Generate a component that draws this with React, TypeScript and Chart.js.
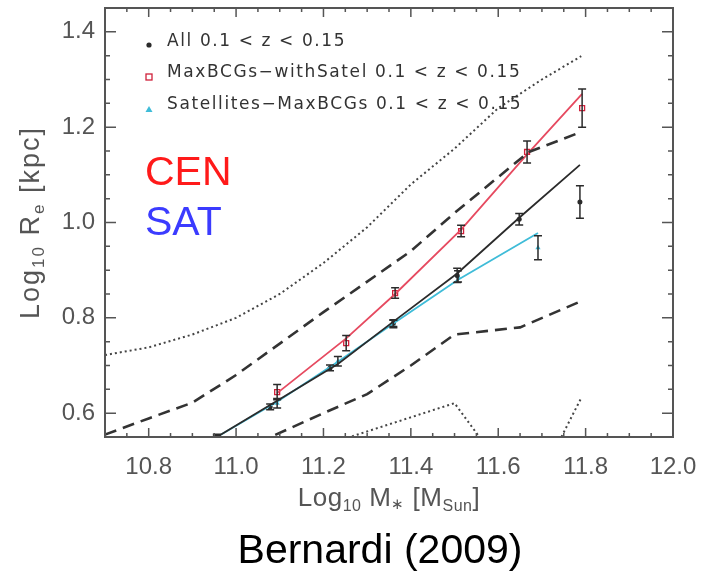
import React, { useEffect, useRef } from "react";
import { Chart, registerables } from "chart.js";

Chart.register(...registerables);

// ---- axes ----
const xTicks = [10.8, 11.0, 11.2, 11.4, 11.6, 11.8, 12.0];
const yTicks = [0.6, 0.8, 1.0, 1.2, 1.4];

// ---- All 0.1 < z < 0.15 (black points) ----
const allX = [10.956, 11.078, 11.215, 11.36, 11.506, 11.648, 11.787];
const allY = [0.54, 0.613, 0.695, 0.789, 0.889, 1.007, 1.043];
const allErr = [0.013, 0.006, 0.006, 0.007, 0.015, 0.012, 0.034];

// ---- MaxBCGs-withSatel (red squares) ----
const cenX = [11.094, 11.252, 11.364, 11.515, 11.666, 11.792];
const cenY = [0.644, 0.747, 0.852, 0.982, 1.148, 1.24];
const cenErr = [0.016, 0.016, 0.011, 0.012, 0.023, 0.04];

// ---- Satellites-MaxBCGs (cyan triangles) ----
const satX = [10.956, 11.094, 11.233, 11.36, 11.508, 11.691];
const satY = [0.548, 0.621, 0.709, 0.787, 0.887, 0.947];
const satErr = [0.008, 0.01, 0.01, 0.008, 0.012, 0.025];

// ---- fit lines ----
const allFitX = [10.956, 11.094, 11.233, 11.36, 11.506, 11.648, 11.787];
const allFitY = [0.55, 0.626, 0.703, 0.792, 0.893, 1.01, 1.121];
const cenFitX = [11.094, 11.252, 11.364, 11.515, 11.666, 11.792];
const cenFitY = [0.642, 0.757, 0.85, 0.985, 1.143, 1.27];
const satFitX = [10.956, 11.094, 11.233, 11.36, 11.508, 11.691];
const satFitY = [0.55, 0.624, 0.708, 0.788, 0.88, 0.978];

// ---- envelope curves ----
const upDotX = [10.7, 10.8, 10.9, 11.0, 11.1, 11.2, 11.3, 11.4, 11.5, 11.6, 11.7, 11.79];
const upDotY = [0.722, 0.738, 0.765, 0.8, 0.85, 0.915, 0.99, 1.08, 1.155, 1.24, 1.3, 1.349];
const upDashX = [10.7, 10.8, 10.9, 11.0, 11.2, 11.4, 11.5, 11.67, 11.79];
const upDashY = [0.555, 0.589, 0.622, 0.68, 0.812, 0.94, 1.02, 1.148, 1.19];
const loDashX = [11.05, 11.2, 11.3, 11.4, 11.5, 11.65, 11.79];
const loDashY = [0.538, 0.6, 0.64, 0.7, 0.765, 0.78, 0.835];
const loDotX = [11.2, 11.5, 11.6, 11.7, 11.79];
const loDotY = [0.532, 0.621, 0.496, 0.47, 0.632];

const legendLabels = [
  "All 0.1 < z < 0.15",
  "MaxBCGs\u2212withSatel 0.1 < z < 0.15",
  "Satellites\u2212MaxBCGs 0.1 < z < 0.15",
];

const RED = "#e64a60";
const CYAN = "#3fbcd8";
const BLACK = "#2b2b2b";
const AXIS = "#555555";
const SANS = "'Liberation Sans', Arial, sans-serif";

const pts = (xs: number[], ys: number[]) => xs.map((v, i) => ({ x: v, y: ys[i] }));

function drawRich(
  ctx: CanvasRenderingContext2D,
  parts: [string, number, number][],
  cx: number,
  cy: number,
  rot: number,
  spacing: number
) {
  ctx.save();
  ctx.translate(cx, cy);
  ctx.rotate(rot);
  ctx.textBaseline = "alphabetic";
  ctx.textAlign = "left";
  (ctx as any).letterSpacing = `${spacing}px`;
  let total = 0;
  for (const [t, s] of parts) {
    ctx.font = `${s}px ${SANS}`;
    total += ctx.measureText(t).width;
  }
  let x = -total / 2;
  for (const [t, s, dy] of parts) {
    ctx.font = `${s}px ${SANS}`;
    ctx.fillText(t, x, 9 + dy);
    x += ctx.measureText(t).width;
  }
  ctx.restore();
}

const overlay = {
  id: "overlay",
  afterDatasetsDraw(chart: any) {
    const { ctx, chartArea: a } = chart;
    const xs = chart.scales.x;
    const ys = chart.scales.y;
    ctx.save();
    ctx.beginPath();
    ctx.rect(a.left, a.top, a.right - a.left, a.bottom - a.top);
    ctx.clip();
    ctx.strokeStyle = BLACK;
    ctx.lineWidth = 1.5;
    const groups: [number[], number[], number[]][] = [
      [allX, allY, allErr],
      [cenX, cenY, cenErr],
      [satX, satY, satErr],
    ];
    for (const [gx, gy, ge] of groups) {
      for (let i = 0; i < gx.length; i++) {
        const px = xs.getPixelForValue(gx[i]);
        const t = ys.getPixelForValue(gy[i] + ge[i]);
        const b = ys.getPixelForValue(gy[i] - ge[i]);
        ctx.beginPath();
        ctx.moveTo(px, t);
        ctx.lineTo(px, b);
        ctx.moveTo(px - 4, t);
        ctx.lineTo(px + 4, t);
        ctx.moveTo(px - 4, b);
        ctx.lineTo(px + 4, b);
        ctx.stroke();
      }
    }
    ctx.restore();
  },
  afterDraw(chart: any) {
    const { ctx, chartArea: a } = chart;
    const xs = chart.scales.x;
    const ys = chart.scales.y;
    ctx.save();
    // box
    ctx.strokeStyle = AXIS;
    ctx.lineWidth = 2;
    ctx.strokeRect(a.left, a.top, a.right - a.left, a.bottom - a.top);
    // ticks
    ctx.lineWidth = 1.5;
    ctx.beginPath();
    for (let k = 0; k <= 26; k++) {
      const v = 10.7 + k * 0.05;
      const major = xTicks.some((t) => Math.abs(t - v) < 1e-6);
      const len = major ? 9 : 4;
      const px = xs.getPixelForValue(v);
      ctx.moveTo(px, a.bottom);
      ctx.lineTo(px, a.bottom - len);
      ctx.moveTo(px, a.top);
      ctx.lineTo(px, a.top + len);
    }
    for (let k = 0; k <= 18; k++) {
      const v = 0.55 + k * 0.05;
      const major = yTicks.some((t) => Math.abs(t - v) < 1e-6);
      const len = major ? 11 : 5;
      const py = ys.getPixelForValue(v);
      ctx.moveTo(a.left, py);
      ctx.lineTo(a.left + len, py);
      ctx.moveTo(a.right, py);
      ctx.lineTo(a.right - len, py);
    }
    ctx.stroke();

    // legend
    const tx = a.left + 62;
    const lineY = [a.top + 34, a.top + 65, a.top + 97];
    ctx.fillStyle = "#333";
    ctx.font = `17px 'DejaVu Sans', sans-serif`;
    (ctx as any).letterSpacing = "1.6px";
    ctx.textBaseline = "middle";
    ctx.textAlign = "left";
    legendLabels.forEach((t, i) => ctx.fillText(t, tx, lineY[i]));
    (ctx as any).letterSpacing = "0px";
    const mx = a.left + 44;
    ctx.fillStyle = BLACK;
    ctx.beginPath();
    ctx.arc(mx, lineY[0] + 3, 2.6, 0, Math.PI * 2);
    ctx.fill();
    ctx.strokeStyle = "#d0203a";
    ctx.lineWidth = 1.3;
    ctx.strokeRect(mx - 3, lineY[1] + 1, 6, 6);
    ctx.fillStyle = CYAN;
    ctx.beginPath();
    ctx.moveTo(mx, lineY[2] + 1);
    ctx.lineTo(mx + 3.5, lineY[2] + 7);
    ctx.lineTo(mx - 3.5, lineY[2] + 7);
    ctx.closePath();
    ctx.fill();

    // CEN / SAT
    ctx.font = `41px ${SANS}`;
    ctx.textBaseline = "alphabetic";
    ctx.fillStyle = "#ff1a1a";
    ctx.fillText("CEN", 145, 185);
    ctx.fillStyle = "#3b3bff";
    ctx.fillText("SAT", 145, 235);

    // axis titles
    ctx.fillStyle = "#555";
    drawRich(
      ctx,
      [
        ["Log", 26, 0],
        ["10", 16, 5],
        [" M", 26, 0],
        ["\u2217", 15, 3],
        [" [M", 26, 0],
        ["Sun", 16, 5],
        ["]", 26, 0],
      ],
      (a.left + a.right) / 2,
      a.bottom + 60,
      0,
      0.5
    );
    drawRich(
      ctx,
      [
        ["Log", 27, 0],
        ["10", 17, 5],
        [" R", 27, 0],
        ["e", 17, 5],
        [" [kpc]", 27, 0],
      ],
      30,
      (a.top + a.bottom) / 2,
      -Math.PI / 2,
      2
    );

    // caption
    ctx.fillStyle = "#000";
    ctx.font = `41px ${SANS}`;
    ctx.textAlign = "center";
    ctx.fillText("Bernardi (2009)", 380, 563);
    ctx.restore();
  },
};

export default function App() {
  const ref = useRef<HTMLCanvasElement | null>(null);
  useEffect(() => {
    if (!ref.current) return;
    const line = (data: any, color: string, width: number, dash: number[] = []) => ({
      type: "line" as const,
      data,
      borderColor: color,
      borderWidth: width,
      borderDash: dash,
      pointRadius: 0,
      fill: false,
      tension: 0,
      showLine: true,
    });
    const chart = new Chart(ref.current, {
      type: "scatter",
      data: {
        datasets: [
          line(pts(upDotX, upDotY), "#444", 2, [2, 3]),
          line(pts(loDotX, loDotY), "#444", 2, [2, 3]),
          line(pts(upDashX, upDashY), "#333", 2.6, [12, 7]),
          line(pts(loDashX, loDashY), "#333", 2.6, [12, 7]),
          line(pts(allFitX, allFitY), BLACK, 1.8),
          line(pts(cenFitX, cenFitY), RED, 1.8),
          line(pts(satFitX, satFitY), CYAN, 1.8),
          {
            data: pts(allX, allY),
            pointStyle: "circle",
            pointRadius: 2.5,
            backgroundColor: BLACK,
            borderColor: BLACK,
            borderWidth: 0,
          },
          {
            data: pts(cenX, cenY),
            pointStyle: "rect",
            pointRadius: 3.5,
            backgroundColor: "rgba(0,0,0,0)",
            borderColor: "#d0203a",
            borderWidth: 1.3,
          },
          {
            data: pts(satX, satY),
            pointStyle: "triangle",
            pointRadius: 3,
            backgroundColor: CYAN,
            borderColor: CYAN,
            borderWidth: 0,
          },
        ] as any,
      },
      options: {
        animation: false,
        responsive: false,
        layout: { padding: { top: 8, right: 31, left: 0, bottom: 0 }, autoPadding: false } as any,
        plugins: { legend: { display: false }, tooltip: { enabled: false } },
        scales: {
          x: {
            type: "linear",
            min: 10.7,
            max: 12.0,
            afterBuildTicks: (s: any) => {
              s.ticks = xTicks.map((v) => ({ value: v }));
            },
            afterFit: (s: any) => {
              s.height = 141;
              s.paddingLeft = 0;
              s.paddingRight = 0;
            },
            grid: { display: false, drawTicks: false },
            border: { display: false },
            ticks: {
              autoSkip: false,
              maxRotation: 0,
              padding: 16,
              color: "#555",
              font: { family: SANS, size: 24 },
              callback: (v: any) => Number(v).toFixed(1),
            },
          },
          y: {
            type: "linear",
            min: 0.55,
            max: 1.45,
            afterBuildTicks: (s: any) => {
              s.ticks = yTicks.map((v) => ({ value: v }));
            },
            afterFit: (s: any) => {
              s.width = 105;
              s.paddingTop = 0;
              s.paddingBottom = 0;
            },
            grid: { display: false, drawTicks: false },
            border: { display: false },
            ticks: {
              autoSkip: false,
              padding: 10,
              color: "#555",
              font: { family: SANS, size: 24 },
              callback: (v: any) => Number(v).toFixed(1),
            },
          },
        },
      } as any,
      plugins: [overlay],
    });
    return () => chart.destroy();
  }, []);
  return (
    <div style={{ position: "absolute", left: 0, top: 0, width: 704, height: 578, background: "#fff" }}>
      <canvas ref={ref} width={704} height={578} style={{ width: 704, height: 578, display: "block" }} />
    </div>
  );
}
